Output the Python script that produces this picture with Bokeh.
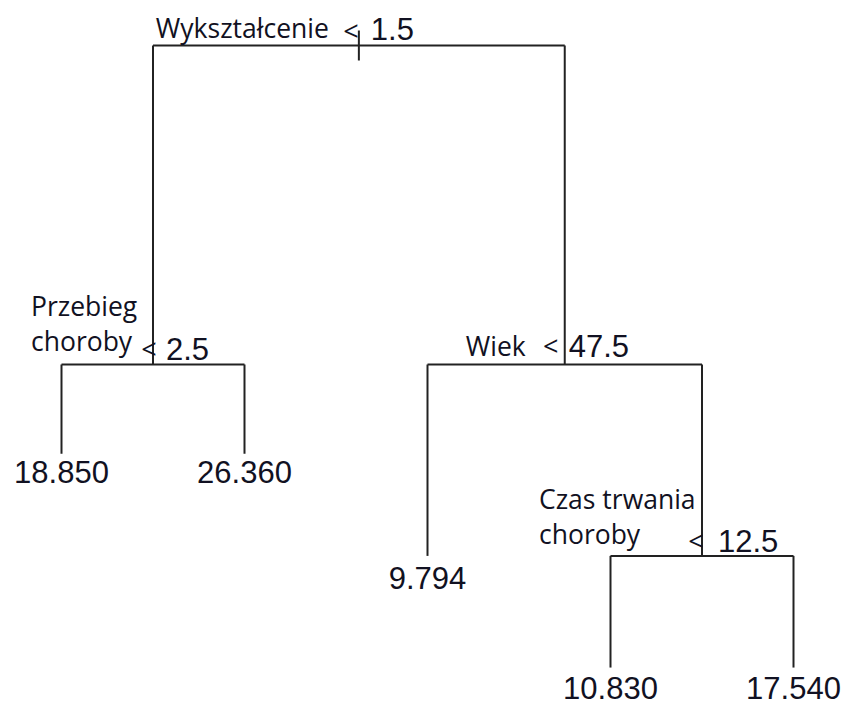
from bokeh.plotting import figure
from bokeh.models import Range1d, ColumnDataSource
from bokeh.core.properties import value
from bokeh.embed import file_html
from bokeh.resources import INLINE

# ---------------- data (regression tree) ----------------
node_parent = [None, 0, 1, 1, 0, 4, 4, 6, 6]
node_split_var = [["Wykształcenie"], ["Przebieg", "choroby"], None, None,
                  ["Wiek"], None, ["Czas trwania", "choroby"], None, None]
node_split_val = ["1.5", "2.5", None, None, "47.5", None, "12.5", None, None]
node_leaf_val = [None, None, "18.850", "26.360", None, "9.794", None, "10.830", "17.540"]
leaf_order = [None, None, 1, 2, None, 3, None, 4, 5]
node_depth = [0.0, 1.0, 1.28, 1.28, 1.0, 1.60, 1.60, 1.95, 1.95]

# ---------------- layout / style ----------------
LABEL_FONT = "Open Sans"
NUM_FONT = "Liberation Sans"
LABEL_SIZE = "26.5px"
LT_SIZE = "27px"
NUM_SIZE = "31px"
TXT = "#111122"
LINE = "#222222"

# per-node text offsets (screen px): name dx, first line dy, "<" dx, dy, value dx, dy
split_style = {
    0: dict(ndx=-203, ndy=-18, ldx=-8, ldy=-15, vdx=12, vdy=-17),
    1: dict(ndx=-122, ndy=-59, ldx=-4, ldy=-16, vdx=13, vdy=-16),
    4: dict(ndx=-99, ndy=-19, ldx=-14, ldy=-19, vdx=4, vdy=-19),
    6: dict(ndx=-163, ndy=-57, ldx=-6, ldy=-15, vdx=16, vdy=-15),
}
LINE_GAP = 35
leaf_dy = {2: 18, 3: 18, 5: 22, 7: 20, 8: 20}

# ---------------- compute node x ----------------
n = len(node_parent)
children = {i: [] for i in range(n)}
for i, par in enumerate(node_parent):
    if par is not None:
        children[par].append(i)
node_x = [None] * n
for i in reversed(range(n)):
    if leaf_order[i] is not None:
        node_x[i] = float(leaf_order[i])
    else:
        node_x[i] = sum(node_x[c] for c in children[i]) / len(children[i])

# ---------------- figure ----------------
p = figure(width=844, height=711, output_backend="svg", toolbar_location=None,
           x_range=Range1d(0.66667, 5.27869), y_range=Range1d(2.08777, -0.14107),
           min_border=0)
p.axis.visible = False
p.xgrid.visible = False
p.ygrid.visible = False
p.outline_line_color = None
p.background_fill_color = "white"
p.border_fill_color = "white"

# segments
x0, y0, x1, y1 = [], [], [], []
for i in range(n):
    par = node_parent[i]
    if par is not None:
        x0.append(node_x[i]); y0.append(node_depth[par])
        x1.append(node_x[i]); y1.append(node_depth[i])
    if children[i]:
        xs = [node_x[c] for c in children[i]]
        x0.append(min(xs)); y0.append(node_depth[i])
        x1.append(max(xs)); y1.append(node_depth[i])
seg = ColumnDataSource(dict(x0=x0, y0=y0, x1=x1, y1=y1))
p.segment("x0", "y0", "x1", "y1", source=seg, line_color=LINE, line_width=2)

# root stub
root = 0
p.scatter(x=[node_x[root]], y=[node_depth[root]], marker="dash", angle=1.5708,
          size=30, line_color=LINE, line_width=2)

# split labels
for i, st in split_style.items():
    for k, line in enumerate(node_split_var[i]):
        p.text(x=[node_x[i]], y=[node_depth[i]], text=[line],
               x_offset=st["ndx"], y_offset=st["ndy"] + LINE_GAP * k,
               text_font=value(LABEL_FONT), text_font_size=LABEL_SIZE,
               text_color=TXT, text_align="left", text_baseline="middle")
    p.text(x=[node_x[i]], y=[node_depth[i]], text=["<"],
           x_offset=st["ldx"], y_offset=st["ldy"],
           text_font=value(LABEL_FONT), text_font_size=LT_SIZE,
           text_color=TXT, text_align="center", text_baseline="middle")
    p.text(x=[node_x[i]], y=[node_depth[i]], text=[node_split_val[i]],
           x_offset=st["vdx"], y_offset=st["vdy"],
           text_font=value(NUM_FONT), text_font_size=NUM_SIZE,
           text_color=TXT, text_align="left", text_baseline="middle")

# leaf labels
for i, dy in leaf_dy.items():
    p.text(x=[node_x[i]], y=[node_depth[i]], text=[node_leaf_val[i]],
           y_offset=dy, text_font=value(NUM_FONT), text_font_size=NUM_SIZE,
           text_color=TXT, text_align="center", text_baseline="middle")

open("out.html", "w").write(file_html(p, INLINE))
